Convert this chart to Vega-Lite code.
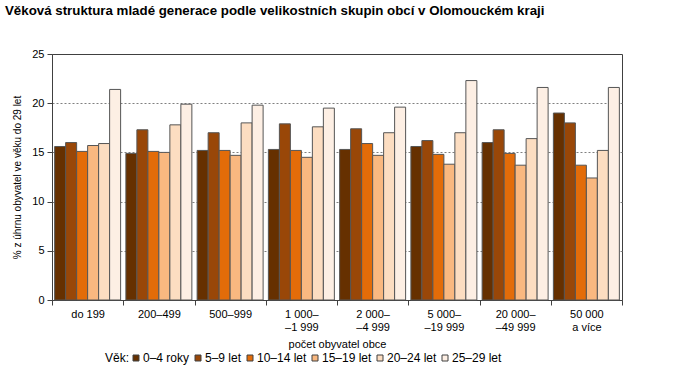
{
  "$schema": "https://vega.github.io/schema/vega-lite/v6.json",
  "width": 570,
  "height": 246,
  "autosize": {"type": "none"},
  "padding": {"left": 52, "top": 54, "right": 51, "bottom": 80},
  "background": "white",
  "title": {
    "text": "Věková struktura mladé generace podle velikostních skupin obcí v Olomouckém kraji",
    "anchor": "start",
    "frame": "group",
    "dx": -47,
    "offset": 31,
    "font": "Liberation Sans",
    "fontSize": 13.3,
    "fontWeight": "bold",
    "color": "#000000"
  },
  "config": {
    "font": "Liberation Sans",
    "view": {"stroke": "#404040", "strokeWidth": 1}
  },
  "data": {
    "values": [
      {"obec": "do 199", "vek": "0–4 roky", "v": 15.6},
      {"obec": "do 199", "vek": "5–9 let", "v": 16.0},
      {"obec": "do 199", "vek": "10–14 let", "v": 15.1},
      {"obec": "do 199", "vek": "15–19 let", "v": 15.7},
      {"obec": "do 199", "vek": "20–24 let", "v": 15.9},
      {"obec": "do 199", "vek": "25–29 let", "v": 21.4},
      {"obec": "200–499", "vek": "0–4 roky", "v": 14.9},
      {"obec": "200–499", "vek": "5–9 let", "v": 17.3},
      {"obec": "200–499", "vek": "10–14 let", "v": 15.1},
      {"obec": "200–499", "vek": "15–19 let", "v": 15.0},
      {"obec": "200–499", "vek": "20–24 let", "v": 17.8},
      {"obec": "200–499", "vek": "25–29 let", "v": 19.9},
      {"obec": "500–999", "vek": "0–4 roky", "v": 15.2},
      {"obec": "500–999", "vek": "5–9 let", "v": 17.0},
      {"obec": "500–999", "vek": "10–14 let", "v": 15.2},
      {"obec": "500–999", "vek": "15–19 let", "v": 14.7},
      {"obec": "500–999", "vek": "20–24 let", "v": 18.0},
      {"obec": "500–999", "vek": "25–29 let", "v": 19.8},
      {"obec": "1 000–|–1 999", "vek": "0–4 roky", "v": 15.3},
      {"obec": "1 000–|–1 999", "vek": "5–9 let", "v": 17.9},
      {"obec": "1 000–|–1 999", "vek": "10–14 let", "v": 15.2},
      {"obec": "1 000–|–1 999", "vek": "15–19 let", "v": 14.5},
      {"obec": "1 000–|–1 999", "vek": "20–24 let", "v": 17.6},
      {"obec": "1 000–|–1 999", "vek": "25–29 let", "v": 19.5},
      {"obec": "2 000–|–4 999", "vek": "0–4 roky", "v": 15.3},
      {"obec": "2 000–|–4 999", "vek": "5–9 let", "v": 17.4},
      {"obec": "2 000–|–4 999", "vek": "10–14 let", "v": 15.9},
      {"obec": "2 000–|–4 999", "vek": "15–19 let", "v": 14.7},
      {"obec": "2 000–|–4 999", "vek": "20–24 let", "v": 17.0},
      {"obec": "2 000–|–4 999", "vek": "25–29 let", "v": 19.6},
      {"obec": "5 000–|–19 999", "vek": "0–4 roky", "v": 15.6},
      {"obec": "5 000–|–19 999", "vek": "5–9 let", "v": 16.2},
      {"obec": "5 000–|–19 999", "vek": "10–14 let", "v": 14.8},
      {"obec": "5 000–|–19 999", "vek": "15–19 let", "v": 13.8},
      {"obec": "5 000–|–19 999", "vek": "20–24 let", "v": 17.0},
      {"obec": "5 000–|–19 999", "vek": "25–29 let", "v": 22.3},
      {"obec": "20 000–|–49 999", "vek": "0–4 roky", "v": 16.0},
      {"obec": "20 000–|–49 999", "vek": "5–9 let", "v": 17.3},
      {"obec": "20 000–|–49 999", "vek": "10–14 let", "v": 14.9},
      {"obec": "20 000–|–49 999", "vek": "15–19 let", "v": 13.7},
      {"obec": "20 000–|–49 999", "vek": "20–24 let", "v": 16.4},
      {"obec": "20 000–|–49 999", "vek": "25–29 let", "v": 21.6},
      {"obec": "50 000|a více", "vek": "0–4 roky", "v": 19.0},
      {"obec": "50 000|a více", "vek": "5–9 let", "v": 18.0},
      {"obec": "50 000|a více", "vek": "10–14 let", "v": 13.7},
      {"obec": "50 000|a více", "vek": "15–19 let", "v": 12.4},
      {"obec": "50 000|a více", "vek": "20–24 let", "v": 15.2},
      {"obec": "50 000|a více", "vek": "25–29 let", "v": 21.6}
    ]
  },
  "mark": {"type": "bar", "stroke": "#555555", "strokeWidth": 1},
  "encoding": {
    "x": {
      "field": "obec",
      "type": "nominal",
      "sort": ["do 199", "200–499", "500–999", "1 000–|–1 999", "2 000–|–4 999", "5 000–|–19 999", "20 000–|–49 999", "50 000|a více"],
      "scale": {"paddingInner": 0, "paddingOuter": 0},
      "axis": {
        "title": "počet obyvatel obce",
        "labelAngle": 0,
        "labelExpr": "isValid(datum.value) ? split(datum.value, '|') : ''",
        "labelFontSize": 11,
        "labelColor": "#000000",
        "labelPadding": 3,
        "labelLineHeight": 13,
        "tickBand": "extent",
        "tickSize": 5,
        "tickColor": "#404040",
        "domainColor": "#404040",
        "titleFontSize": 11,
        "titleFontWeight": "normal",
        "titleColor": "#000000",
        "titlePadding": 6
      }
    },
    "xOffset": {
      "field": "vek",
      "type": "nominal",
      "sort": ["0–4 roky", "5–9 let", "10–14 let", "15–19 let", "20–24 let", "25–29 let"],
      "scale": {"paddingInner": 0, "paddingOuter": 0.24}
    },
    "y": {
      "field": "v",
      "type": "quantitative",
      "scale": {"domain": [0, 25]},
      "axis": {
        "title": "% z úhrnu obyvatel ve věku do 29 let",
        "values": [0, 5, 10, 15, 20, 25],
        "labelFontSize": 11,
        "labelColor": "#000000",
        "labelPadding": 3,
        "tickSize": 5,
        "tickColor": "#404040",
        "domainColor": "#404040",
        "grid": true,
        "gridDash": [2, 2],
        "gridColor": "#808080",
        "gridOpacity": {"condition": {"test": "datum.value == 0 || datum.value == 25", "value": 0}, "value": 1},
        "titleFontSize": 10,
        "titleFontWeight": "normal",
        "titleColor": "#000000",
        "titlePadding": 9
      }
    },
    "color": {
      "field": "vek",
      "type": "nominal",
      "scale": {
        "domain": ["0–4 roky", "5–9 let", "10–14 let", "15–19 let", "20–24 let", "25–29 let"],
        "range": ["#663000", "#994708", "#E36C09", "#F9B880", "#FCDDC1", "#FDEFE4"]
      },
      "legend": {
        "title": "Věk:",
        "orient": "none",
        "legendX": 53,
        "legendY": 298,
        "direction": "horizontal",
        "titleOrient": "left",
        "titleFontSize": 12,
        "titleFontWeight": "normal",
        "titleColor": "#000000",
        "titlePadding": 0,
        "labelFontSize": 12,
        "labelColor": "#000000",
        "labelOffset": 1,
        "symbolType": "square",
        "symbolSize": 36,
        "symbolStrokeColor": "#404040",
        "symbolStrokeWidth": 1,
        "columnPadding": 2
      }
    }
  }
}
